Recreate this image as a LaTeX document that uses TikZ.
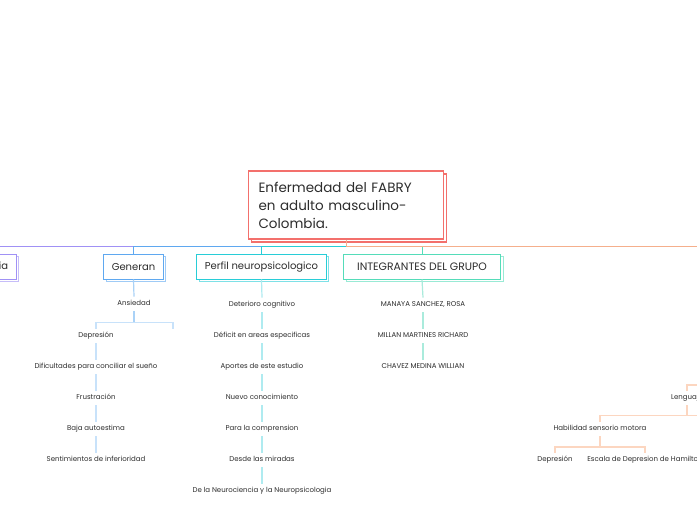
\documentclass[tikz,border=0pt]{standalone}
\usepackage{fontspec}
\setmainfont{Poppins}
\usetikzlibrary{shadows}

\definecolor{fabryred}{RGB}{243,112,108}
\definecolor{sintpurple}{RGB}{160,145,245}
\definecolor{genblue}{RGB}{95,168,240}
\definecolor{perfteal}{RGB}{40,205,215}
\definecolor{intgreen}{RGB}{85,220,185}
\definecolor{evalorange}{RGB}{245,175,140}
\definecolor{genline}{RGB}{170,210,247}
\definecolor{genlight}{RGB}{200,226,250}
\definecolor{perfline}{RGB}{175,235,240}
\definecolor{intline}{RGB}{170,235,220}
\definecolor{evallight}{RGB}{252,214,192}
\definecolor{textgray}{RGB}{45,45,45}

\begin{document}
\begin{tikzpicture}[x=1pt, y=-1pt,
    central/.style={draw=fabryred, line width=1.2pt, fill=white, text=textgray,
        text width=175pt, align=left, inner xsep=10pt, minimum height=68pt,
        font=\fontsize{13.5}{18}\selectfont,
        copy shadow={draw=fabryred, fill=white, line width=1.2pt,
            shadow xshift=3pt, shadow yshift=-3pt}},
    topic/.style={draw=#1, line width=1pt, fill=white, text=textgray,
        minimum height=24.6pt, inner xsep=8pt, font=\fontsize{10}{12}\selectfont,
        copy shadow={draw=#1!60, fill=white, line width=1pt,
            shadow xshift=2.5pt, shadow yshift=-2.5pt}},
    leaf/.style={text=textgray, font=\fontsize{7}{8}\selectfont,
        text height=5pt, text depth=1.5pt, inner ysep=4pt},
    branch/.style={draw=#1, line width=1pt},
    twig/.style={draw=#1, line width=1.2pt}
]
\fill[white] (0,0) rectangle (697,520);
\useasboundingbox (0,0) rectangle (697,520);
\clip (0,0) rectangle (697,520);
% Central topic
\node[central] (fabry) at (346,205) {Enfermedad del FABRY\\en adulto masculino-\\Colombia.};
% Main topics
\node[topic=sintpurple, anchor=east] (sinto) at (16.7,266.7) {Sintomatologia};
\node[topic=genblue, minimum width=58pt] (generan) at (133.5,266.7) {Generan};
\node[topic=perfteal, minimum width=128pt] (perfil) at (261.5,266.7) {Perfil neuropsicologico};
\node[topic=intgreen, minimum width=157pt, font=\fontsize{10.8}{12}\selectfont] (integ) at (422,266.7) {INTEGRANTES DEL GRUPO};
% Branches from the centre
\coordinate (hub) at (346,246.5);
\coordinate (evalroot) at (720,246.5);
\draw[branch=sintpurple] (fabry.south) -- (hub) -| (sinto.north);
\draw[branch=genblue] (fabry.south) -- (hub) -| (generan.north);
\draw[branch=perfteal] (fabry.south) -- (hub) -| (perfil.north);
\draw[branch=intgreen] (fabry.south) -- (hub) -| (integ.north);
\draw[branch=evalorange] (fabry.south) -- (hub) -- (evalroot);
% Generan
\node[leaf] (ansiedad) at (134,304) {Ansiedad};
\foreach \txt [count=\i] in {Depresión, Dificultades para conciliar el sueño, Frustración, Baja autoestima, Sentimientos de inferioridad}
    \node[leaf] (gen\i) at (96,305+31*\i) {\txt};
\coordinate (genfork) at (134,322.5);
\coordinate (genblank) at (173,328.5);
\draw[twig=genline] (generan.south) -- (ansiedad.north);
\draw[twig=genline] (ansiedad.south) -- (genfork);
\draw[twig=genlight] (genfork) -| (gen1.north);
\draw[twig=genlight] (genfork) -| (genblank);
\foreach \a/\b in {1/2,2/3,3/4,4/5}
    \draw[twig=genlight] (gen\a.south) -- (gen\b.north);
% Perfil neuropsicologico
\foreach \txt [count=\i] in {Deterioro cognitivo, Déficit en areas especificas, Aportes de este estudio, Nuevo conocimiento, Para la comprension, Desde las miradas, De la Neurociencia y la Neuropsicologia}
    \node[leaf] (perf\i) at (262,274+31*\i) {\txt};
\draw[twig=perfline] (perfil.south) -- (perf1.north);
\foreach \a/\b in {1/2,2/3,3/4,4/5,5/6,6/7}
    \draw[twig=perfline] (perf\a.south) -- (perf\b.north);
% Integrantes
\foreach \txt [count=\i] in {{MANAYA SANCHEZ, ROSA}, MILLAN MARTINES RICHARD, CHAVEZ MEDINA WILLIAN}
    \node[leaf] (int\i) at (423,274+31*\i) {\txt};
\draw[twig=intline] (integ.south) -- (int1.north);
\foreach \a/\b in {1/2,2/3}
    \draw[twig=intline] (int\a.south) -- (int\b.north);
% Right branch (partly outside)
\node[leaf] (lenguaje) at (687,398) {Lenguaje};
\node[leaf] (habil) at (600,429) {Habilidad sensorio motora};
\node[leaf] (depr2) at (555,460) {Depresión};
\node[leaf] (escala) at (645,460) {Escala de Depresion de Hamilton};
\coordinate (evalfork) at (720,385);
\coordinate (lengfork) at (687,415.5);
\coordinate (lengright) at (720,415.5);
\coordinate (habfork) at (600,447);
\draw[twig=evallight] (evalfork) -| (lenguaje.north);
\draw[twig=evallight] (lenguaje.south) -- (lengfork) -- (lengright);
\draw[twig=evallight] (lengfork) -| (habil.north);
\draw[twig=evallight] (habil.south) -- (habfork);
\draw[twig=evallight] (habfork) -| (depr2.north);
\draw[twig=evallight] (habfork) -| (escala.north);
\end{tikzpicture}
\end{document}
